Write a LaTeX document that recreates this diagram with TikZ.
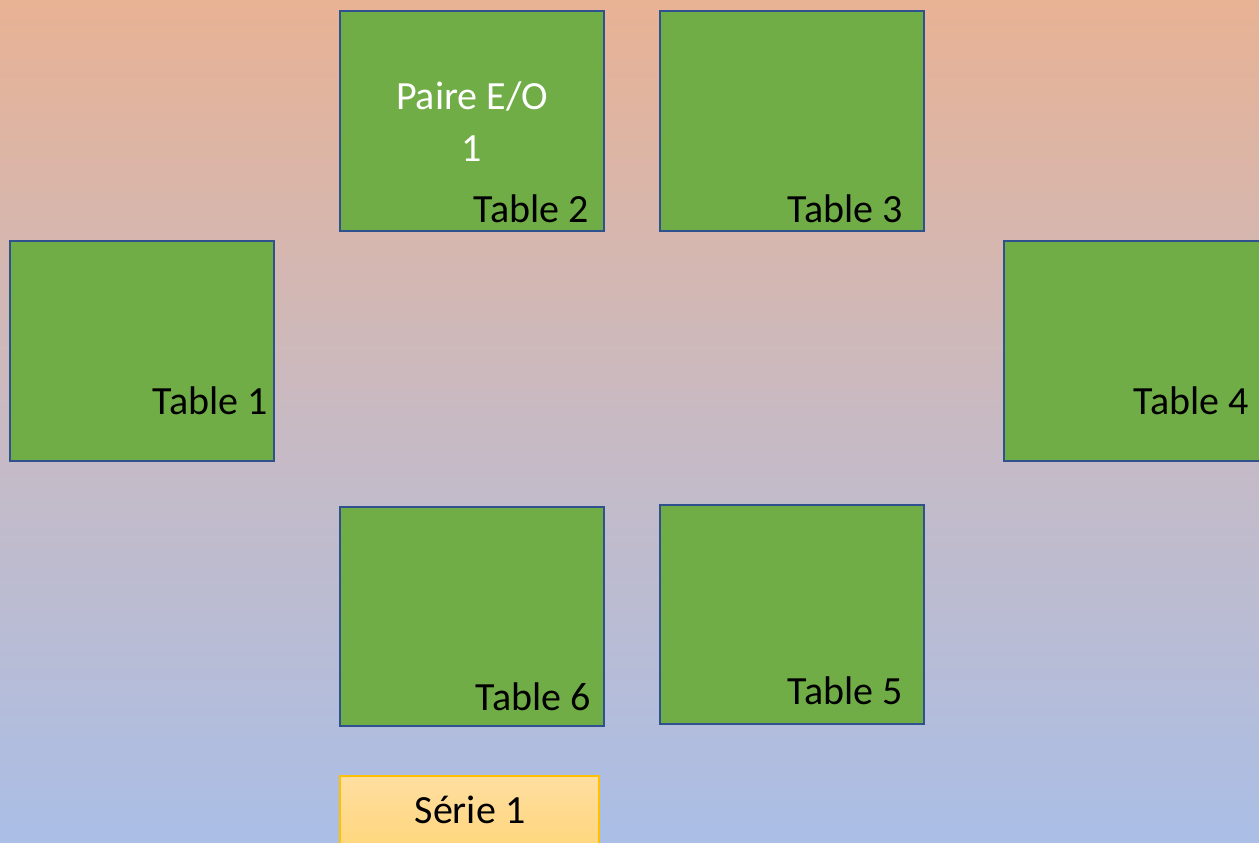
\documentclass[tikz,border=0pt]{standalone}
\usepackage{fontspec}
\setmainfont{Carlito}
\definecolor{bgtop}{RGB}{232,178,148}
\definecolor{bgmid}{RGB}{200,186,195}
\definecolor{bgbot}{RGB}{170,190,230}
\definecolor{tgreen}{RGB}{112,173,71}
\definecolor{tborder}{RGB}{47,82,143}
\definecolor{stop}{RGB}{255,222,160}
\definecolor{sbot}{RGB}{255,214,120}
\definecolor{sborder}{RGB}{255,192,0}
\begin{document}
\begin{tikzpicture}[x=1pt,y=-1pt,
  tbl/.style={draw=tborder, line width=1.8pt, fill=tgreen, rectangle, inner sep=0pt, outer sep=0pt, anchor=north west},
  lbl/.style={inner sep=0pt, font=\fontsize{40}{48}\selectfont, text=black},
  wlbl/.style={inner sep=0pt, font=\fontsize{40}{50}\selectfont, text=white, align=center},
  serie/.style={draw=sborder, line width=1.5pt, top color=stop, bottom color=sbot, rectangle, inner sep=0pt, outer sep=0pt, anchor=north west}]
\useasboundingbox (0,0) rectangle (1259,843);
\clip (0,0) rectangle (1259,843);
\shade[top color=bgtop, bottom color=bgbot, middle color=bgmid] (0,0) rectangle (1259,843);
% tables
\node[tbl, minimum width=264pt, minimum height=220pt] (t1) at (10,241) {};
\node[tbl, minimum width=264pt, minimum height=220pt] (t2) at (340,11) {};
\node[tbl, minimum width=264pt, minimum height=220pt] (t3) at (660,11) {};
\node[tbl, minimum width=270pt, minimum height=220pt] (t4) at (1004,241) {};
\node[tbl, minimum width=264pt, minimum height=219pt] (t6) at (340,507) {};
\node[tbl, minimum width=264pt, minimum height=219pt] (t5) at (660,505) {};
\node[serie, minimum width=259pt, minimum height=80pt] (s1) at (340,776) {};
% labels
\node[lbl, anchor=base east] (l1) at (268,414) {Table 1};
\node[lbl, anchor=base east] (l2) at (589,222) {Table 2};
\node[lbl, anchor=base east] (l3) at (903,222) {Table 3};
\node[lbl, anchor=base east] (l4) at (1249,414) {Table 4};
\node[lbl, anchor=base east] (l6) at (591,710) {Table 6};
\node[lbl, anchor=base east] (l5) at (903,704) {Table 5};
\node[wlbl, anchor=base] (p1) at (472,110) {Paire E/O};
\node[wlbl, anchor=base] (p2) at (472,161) {1};
\node[lbl, anchor=base] (sl) at (470,823) {Série 1};
\end{tikzpicture}
\end{document}
